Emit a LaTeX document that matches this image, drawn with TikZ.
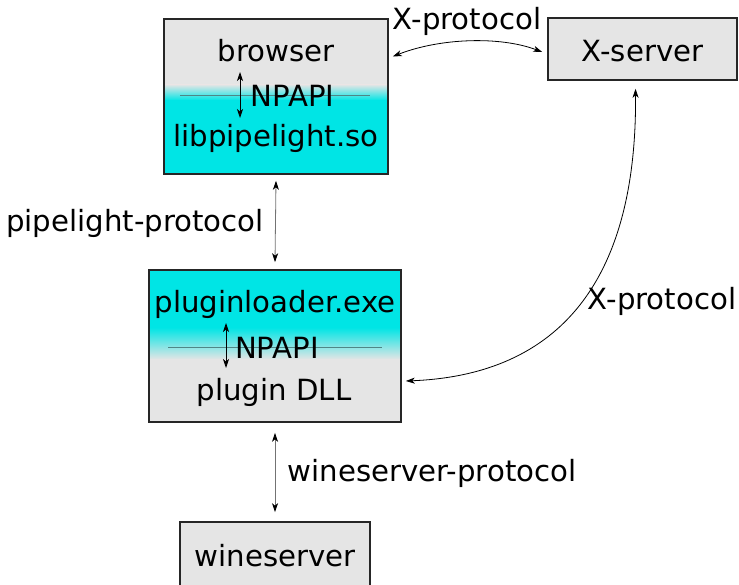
\documentclass[tikz,border=0pt]{standalone}
\usepackage{fontspec}
\setmainfont{DejaVu Sans}
\usetikzlibrary{arrows.meta}
\definecolor{boxgray}{HTML}{E5E5E5}
\definecolor{boxcyan}{HTML}{00E5E5}
\definecolor{sepline}{HTML}{4F8585}
\begin{document}
\begin{tikzpicture}[x=1pt,y=-1pt,
  font=\fontsize{29.2}{33}\selectfont,
  box/.style={draw=black!85, line width=1.6pt, inner sep=0pt},
  lbl/.style={anchor=base, inner sep=0pt},
  arr/.style={{Stealth[length=9pt,width=6pt,inset=2.5pt,color=black]}-{Stealth[length=9pt,width=6pt,inset=2.5pt,color=black]}, line width=0.8pt},
  varr/.style={arr, draw=black!55}
]
\useasboundingbox (0,0) rectangle (739,585);

% browser box fills
\fill[boxgray] (164,19) rectangle (388,85);
\shade[top color=boxgray,bottom color=boxcyan] (164,84.5) rectangle (388,100.5);
\fill[boxcyan] (164,100) rectangle (388,174);
\node[box, minimum width=224pt, minimum height=155pt] (browser) at (276,96.5) {};
\draw[sepline, line width=1pt] (180,96) -- (370,96);
\node[lbl] (tbrowser) at (276,62) {browser};
\node[lbl] (tnp1) at (292.5,107) {NPAPI};
\node[lbl] (tlib) at (276,147) {libpipelight.so};
\coordinate (n1a) at (240,72);
\coordinate (n1b) at (240,118);
\draw[arr] (n1a) -- (n1b);

% plugin loader box fills
\fill[boxcyan] (149,270) rectangle (401,328);
\shade[top color=boxcyan,bottom color=boxgray] (149,327.5) rectangle (401,359.5);
\fill[boxgray] (149,359) rectangle (401,422);
\node[box, minimum width=252pt, minimum height=152pt] (plug) at (275,346) {};
\draw[sepline, line width=1pt] (168,347) -- (382,347);
\node[lbl] (tpl) at (275,313) {pluginloader.exe};
\node[lbl] (tnp2) at (277,358) {NPAPI};
\node[lbl] (tdll) at (274,400) {plugin DLL};
\coordinate (n2a) at (226,323);
\coordinate (n2b) at (226,368);
\draw[arr] (n2a) -- (n2b);

% X-server
\node[box, fill=boxgray, minimum width=189pt, minimum height=62pt] (xs) at (642.5,49) {};
\node[lbl] (txs) at (642.5,62) {X-server};

% wineserver
\node[box, fill=boxgray, minimum width=190pt, minimum height=78pt] (wine) at (275,561) {};
\node[lbl] (twine) at (275,566) {wineserver};

% connectors
\draw[varr] ([yshift=-6pt]browser.south) -- ([yshift=7pt]plug.north);
\draw[varr] ([yshift=-10pt]plug.south) -- ([yshift=9pt]wine.north);
\draw[arr] ([shift={(4,-40)}]browser.east) .. controls (440,38) and (500,36) .. ([shift={(-5,3)}]xs.west);
\draw[arr] ([shift={(-7,8)}]xs.south) .. controls (637,280) and (560,375) .. ([shift={(4,35)}]plug.east);

% labels
\node[lbl] (lxp1) at (467,30) {X-protocol};
\node[lbl] (lxp2) at (662,309) {X-protocol};
\node[lbl] (lpp) at (135,232) {pipelight-protocol};
\node[lbl] (lwp) at (432,481) {wineserver-protocol};
\end{tikzpicture}
\end{document}
